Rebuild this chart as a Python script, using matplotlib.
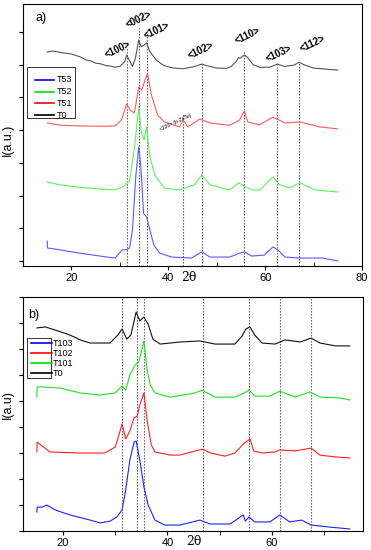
import matplotlib
matplotlib.use("Agg")
import matplotlib.pyplot as plt
from matplotlib.patches import Rectangle

plt.rcParams['font.family'] = ['Liberation Sans', 'DejaVu Sans']

# ---------------- Panel a data (2theta, intensity offset a.u.) ----------------
a_T0_x = [15, 16, 17, 18, 19, 20, 21, 22, 23, 24, 25, 26, 27, 28, 29, 30, 31.0, 31.4, 32.0, 32.6,
          33.2, 33.9, 34.4, 35.0, 35.5, 36.2, 37.5, 39, 41, 43, 45, 46.9, 48, 50, 52, 53, 54,
          54.5, 54.8, 55.7, 56.5, 57.5, 59, 61, 62.5, 64, 66, 67, 68, 70, 73, 75]
a_T0_y = [6.39, 6.42, 6.40, 6.37, 6.35, 6.33, 6.28, 6.23, 6.15, 6.12, 6.05, 6.03, 5.98, 5.96, 5.93,
          5.95, 6.10, 6.30, 6.12, 5.95, 6.20, 6.76, 6.55, 6.60, 6.67, 6.40, 6.15, 5.98, 5.90, 5.88,
          5.93, 6.02, 5.97, 5.90, 5.89, 5.95, 6.10, 6.22, 6.20, 6.30, 6.20, 6.00, 5.92, 5.93, 6.02,
          5.95, 5.99, 6.08, 6.00, 5.90, 5.86, 5.84]

a_T51_x = [15, 18, 22, 26, 29, 30.3, 31.4, 32.2, 33.0, 33.9, 34.5, 35.7, 36.5, 37.8, 39.2, 42.3,
           43.1, 44.0, 46.5, 48.6, 52.7, 54.7, 55.7, 56.4, 58.8, 61.6, 64.1, 67.2, 71.3, 75]
a_T51_y = [4.22, 4.15, 4.13, 4.12, 4.13, 4.30, 4.80, 4.60, 4.53, 5.32, 5.23, 5.75, 5.08, 4.46, 4.25,
           4.10, 4.31, 4.10, 4.34, 4.22, 4.15, 4.31, 4.59, 4.25, 4.16, 4.40, 4.22, 4.25, 4.10, 4.04]

a_T52_x = [15, 17.5, 22, 26, 29, 31.0, 31.4, 32.0, 33.0, 33.9, 34.4, 35.0, 35.5, 36.2, 37.2, 39.2,
           42.3, 45.4, 46.9, 48.6, 52.7, 54.5, 55.5, 57.4, 58.9, 61.6, 63.0, 65.0, 67.2, 70.3, 75]
a_T52_y = [2.42, 2.33, 2.25, 2.20, 2.17, 2.30, 2.39, 2.45, 3.45, 4.71, 3.95, 3.70, 4.10, 3.18, 2.63,
           2.23, 2.17, 2.33, 2.63, 2.33, 2.17, 2.39, 2.30, 2.17, 2.17, 2.57, 2.33, 2.24, 2.39, 2.17, 2.11]

a_T53_x = [15, 15.05, 17.6, 21.7, 25.9, 29.0, 30.5, 31.4, 32.0, 32.6, 33.3, 33.9, 34.3, 34.9, 35.5,
           36.2, 37.0, 38.2, 40.7, 44.8, 46.9, 48.6, 52.7, 54.7, 55.7, 57.2, 59.8, 61.6, 62.6, 64.1,
           67.2, 71.8, 75]
a_T53_y = [0.61, 0.40, 0.34, 0.24, 0.15, 0.09, 0.34, 0.34, 0.40, 0.95, 2.63, 3.49, 2.94, 1.45, 1.35,
           0.95, 0.49, 0.24, 0.12, 0.09, 0.28, 0.12, 0.12, 0.24, 0.28, 0.15, 0.18, 0.43, 0.34, 0.12,
           0.09, 0.09, 0.00]

a_peak_x = [31.4, 33.9, 35.5, 43.1, 46.9, 55.7, 62.5, 67.0]
a_peak_top = [6.54, 7.13, 6.97, 4.53, 6.06, 6.45, 6.06, 6.06]
a_hkl = ['<100>', '<002>', '<101>', '<102>', '<110>', '<103>', '<112>']
a_hkl_x = [29.6, 33.9, 37.6, 46.8, 56.4, 62.9, 69.7]
a_hkl_y = [6.48, 7.40, 7.05, 6.45, 6.88, 6.35, 6.65]
a_series = ['T53', 'T52', 'T51', 'T0']
a_legend_colors = ['#0000ff', '#00e000', '#ff0000', '#000000']

# ---------------- Panel b data ----------------
b_T0_x = [15.0, 16.6, 18.5, 21.3, 23.3, 25.2, 28.0, 29.0, 30.5, 31.3, 32.2, 33.0, 34.0, 34.7, 35.5,
          36.3, 37.2, 38.6, 42.4, 46.2, 49.1, 52.9, 54.3, 55.0, 55.8, 56.7, 58.1, 60.6, 62.5, 65.4,
          67.5, 69.2, 72.1, 74.9]
b_T0_y = [7.81, 7.85, 7.73, 7.54, 7.35, 7.23, 7.23, 7.23, 7.54, 7.77, 7.38, 7.54, 8.42, 8.08, 8.23,
          7.96, 7.38, 7.19, 7.27, 7.31, 7.19, 7.19, 7.50, 7.77, 7.85, 7.54, 7.23, 7.19, 7.35, 7.27,
          7.42, 7.23, 7.12, 7.12]

b_T101_x = [15.0, 15.05, 16.0, 19.4, 23.3, 27.1, 30.0, 31.3, 32.0, 32.8, 33.8, 34.5, 35.5, 36.1,
            36.7, 37.6, 40.5, 45.3, 46.6, 49.1, 52.9, 54.7, 55.6, 56.7, 59.6, 61.5, 64.4, 67.3,
            69.2, 73.0, 74.9]
b_T101_y = [5.15, 5.54, 5.54, 5.50, 5.31, 5.23, 5.31, 5.58, 5.42, 6.00, 6.38, 6.50, 7.31, 6.19,
            5.62, 5.31, 5.15, 5.31, 5.42, 5.15, 5.15, 5.31, 5.42, 5.19, 5.19, 5.38, 5.15, 5.35,
            5.15, 5.12, 5.04]

b_T102_x = [15.0, 15.05, 17.5, 23.3, 28.0, 30.0, 30.7, 31.3, 32.0, 32.8, 33.6, 34.2, 34.7, 35.5,
            36.1, 36.9, 37.6, 40.5, 42.4, 45.3, 46.8, 48.2, 51.0, 52.9, 54.7, 55.8, 56.5, 58.1,
            60.6, 61.5, 64.4, 67.5, 69.2, 72.1, 74.9]
b_T102_y = [3.04, 3.42, 3.04, 3.00, 3.00, 3.23, 3.69, 4.12, 3.54, 3.85, 4.35, 4.42, 4.85, 5.31,
            4.27, 3.31, 3.04, 2.92, 2.92, 3.08, 3.15, 3.00, 2.88, 3.00, 3.38, 3.54, 3.08, 3.00,
            3.04, 3.12, 3.08, 3.19, 2.92, 2.85, 2.81]

b_T103_x = [15.0, 15.05, 16.0, 16.9, 18.5, 21.3, 25.2, 27.1, 29.0, 30.3, 31.3, 32.0, 32.8, 33.6,
            34.0, 34.7, 35.5, 36.3, 37.6, 39.5, 42.4, 46.2, 48.2, 52.0, 54.5, 54.9, 55.6, 56.7,
            59.6, 61.5, 63.4, 65.7, 67.5, 71.1, 74.9]
b_T103_y = [0.73, 0.92, 0.92, 1.00, 0.81, 0.62, 0.42, 0.31, 0.38, 0.54, 0.81, 1.58, 2.73, 3.42,
            3.46, 2.73, 1.69, 1.00, 0.42, 0.23, 0.23, 0.42, 0.27, 0.27, 0.62, 0.38, 0.54, 0.35,
            0.35, 0.62, 0.35, 0.42, 0.23, 0.15, 0.08]

b_peak_x = [31.3, 34.2, 35.5, 46.8, 55.6, 61.5, 67.5]
b_series = ['T103', 'T102', 'T101', 'T0']
b_legend_colors = ['#0000ff', '#ff0000', '#00e000', '#000000']

# ---------------- Figure ----------------
fig = plt.figure(figsize=(3.71, 5.50), dpi=100)

ax1 = fig.add_axes([0.062, 0.5164, 0.914, 0.4764])
ax2 = fig.add_axes([0.062, 0.0345, 0.916, 0.4255])

dot_kw = dict(color='#555555', linestyle=(0, (1.2, 1.5)), linewidth=0.8)

# panel a
for xv, top in zip(a_peak_x, a_peak_top):
    ax1.plot([xv, xv], [-0.153, top], **dot_kw)
ax1.plot(a_T53_x, a_T53_y, color='#5a5aff', lw=0.8)
ax1.plot(a_T52_x, a_T52_y, color='#5cf25c', lw=0.8)
ax1.plot(a_T51_x, a_T51_y, color='#ff5a5a', lw=0.8)
ax1.plot(a_T0_x, a_T0_y, color='#555555', lw=0.8)
ax1.set_xlim(10, 80)
ax1.set_ylim(-0.153, 7.86)
ax1.set_xticks([20, 40, 60, 80])
ax1.set_xticks([30, 50, 70], minor=True)
ax1.set_yticks(range(8))
ax1.set_yticklabels([])
ax1.tick_params(axis='x', which='major', direction='out', length=3, labelsize=8, pad=2)
ax1.tick_params(axis='x', which='minor', direction='in', length=3)
ax1.tick_params(axis='y', direction='out', length=3)
for xv, yv, t in zip(a_hkl_x, a_hkl_y, a_hkl):
    ax1.text(xv, yv, t, rotation=25, ha='center', va='center', fontsize=7, fontweight='bold')
ax1.text(41.5, 4.25, '<220> (b-ZnTe)', rotation=25, ha='center', va='center', fontsize=3.6)
ax1.text(12.5, 7.35, 'a)', fontsize=9)
ax1.text(44.3, -0.3, '2θ', fontsize=9, ha='center', va='top', family='DejaVu Serif')

# legend a (box around handles and labels)
ax1.add_patch(Rectangle((0.0118, 0.565), 0.141, 0.195, transform=ax1.transAxes,
                        facecolor='white', edgecolor='#333333', lw=0.7, zorder=5))
for i, (name, c) in enumerate(zip(a_series, a_legend_colors)):
    yy = 0.710 - i * 0.0447
    ax1.plot([0.035, 0.091], [yy, yy], color=c, lw=1.2, transform=ax1.transAxes, zorder=6)
    ax1.text(0.100, yy, name, fontsize=6.5, va='center', ha='left', transform=ax1.transAxes, zorder=6)

# panel b
for xv in b_peak_x:
    ax2.axvline(xv, **dot_kw)
ax2.plot(b_T103_x, b_T103_y, color='#2020ff', lw=0.8)
ax2.plot(b_T102_x, b_T102_y, color='#ff2020', lw=0.8)
ax2.plot(b_T101_x, b_T101_y, color='#20e020', lw=0.8)
ax2.plot(b_T0_x, b_T0_y, color='#111111', lw=0.8)
ax2.set_xlim(12.34, 77.4)
ax2.set_ylim(0, 9)
ax2.set_xticks([20, 40, 60])
ax2.set_xticks([30, 50, 70], minor=True)
ax2.set_yticks(range(10))
ax2.set_yticklabels([])
ax2.tick_params(axis='x', which='both', direction='out', length=3, labelsize=8, pad=2)
ax2.tick_params(axis='y', direction='out', length=3)
ax2.text(13.3, 8.2, 'b)', fontsize=9)
ax2.text(45.1, -0.15, '2θ', fontsize=9, ha='center', va='top', family='DejaVu Serif')

# legend b (box only around the handles)
ax2.add_patch(Rectangle((0.012, 0.654), 0.070, 0.171, transform=ax2.transAxes,
                        facecolor='white', edgecolor='#333333', lw=0.7, zorder=5))
for i, (name, c) in enumerate(zip(b_series, b_legend_colors)):
    yy = 0.803 - i * 0.0427
    ax2.plot([0.0235, 0.085], [yy, yy], color=c, lw=1.2, transform=ax2.transAxes, zorder=6)
    ax2.text(0.088, yy, name, fontsize=6.5, va='center', ha='left', transform=ax2.transAxes, zorder=6)

fig.text(8 / 371, 1 - 140 / 550, 'I(a.u.)', rotation=90, ha='center', va='center', fontsize=9)
fig.text(8 / 371, 1 - 405 / 550, 'I(a.u)', rotation=90, ha='center', va='center', fontsize=9)

fig.savefig('out.png', dpi=100)
